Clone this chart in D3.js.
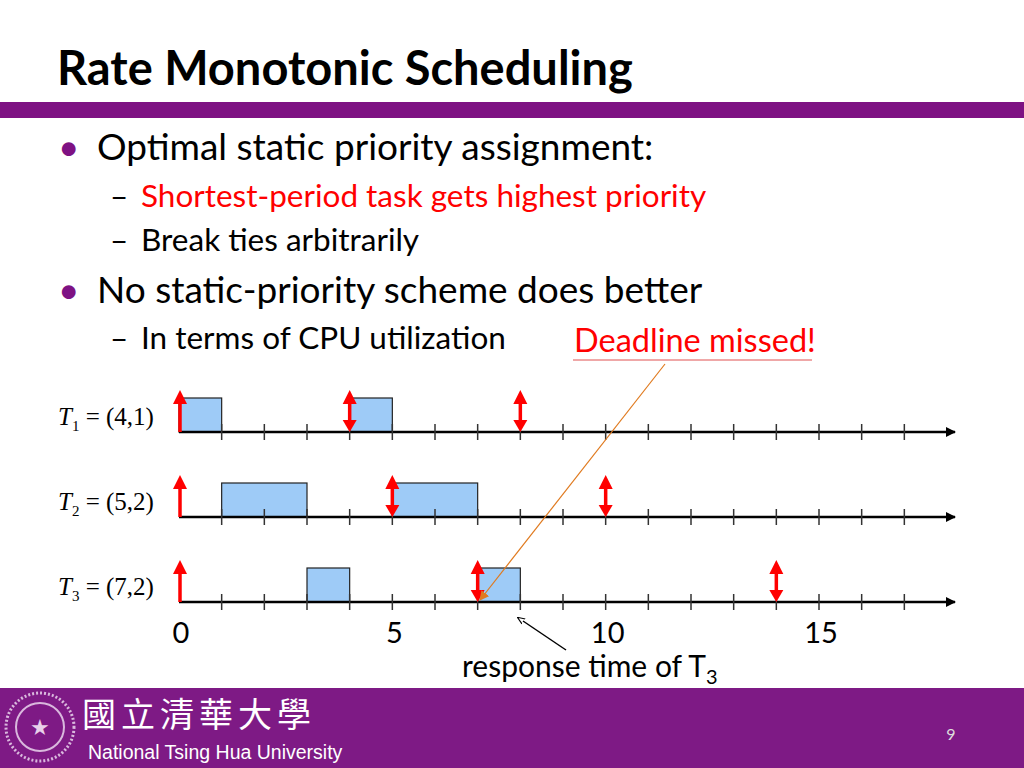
<!DOCTYPE html>
<html><head><meta charset="utf-8">
<script src="https://cdn.jsdelivr.net/npm/d3@7"></script>
<style>body{margin:0;background:#fff}svg{display:block}</style>
</head><body>
<script>
// tasks: name, period, execution
const tasks = ["T1", "T2", "T3"];
const taskLabels = ["(4,1)", "(5,2)", "(7,2)"];
// executed intervals [start, end] per task
const runs = [[[0, 1], [4, 5]], [[1, 3], [5, 7]], [[3, 4], [7, 8]]];
// release times per task
const releases = [[0, 4, 8], [0, 5, 10], [0, 7, 14]];
const tickVals = d3.range(1, 18);
const labelVals = [0, 5, 10, 15];

const W = 1024, H = 768;
const svg = d3.select("body").append("svg").attr("width", W).attr("height", H);
const defs = svg.append("defs");
defs.append("marker").attr("id", "ah").attr("viewBox", "0 0 10 10").attr("refX", 9).attr("refY", 5)
  .attr("markerWidth", 5).attr("markerHeight", 4).attr("orient", "auto")
  .append("path").attr("d", "M0,0L10,5L0,10z").attr("fill", "#000");
defs.append("marker").attr("id", "ao").attr("viewBox", "0 0 10 10").attr("refX", 9).attr("refY", 5)
  .attr("markerWidth", 8).attr("markerHeight", 8).attr("orient", "auto")
  .append("path").attr("d", "M0,0L10,5L0,10z").attr("fill", "#E07A1F");
defs.append("marker").attr("id", "aline").attr("viewBox", "0 0 10 10").attr("refX", 1).attr("refY", 5)
  .attr("markerWidth", 5).attr("markerHeight", 5).attr("orient", "auto")
  .append("path").attr("d", "M0,1L10,5L0,9").attr("fill", "none").attr("stroke", "#000").attr("stroke-width", 1.5);

const font = "Lato, 'Open Sans', sans-serif";
// header
svg.append("text").attr("x", 57).attr("y", 85).attr("font-family", font)
  .attr("font-weight", "bold").attr("font-size", 47).text("Rate Monotonic Scheduling");
svg.append("rect").attr("x", 0).attr("y", 102).attr("width", W).attr("height", 16).attr("fill", "#7E1283");

// bullets
const lines = [
  {t: "Optimal static priority assignment:", x: 97, y: 160, s: 37, lv: 1, c: "#000"},
  {t: "Shortest-period task gets highest priority", x: 141, y: 207, s: 31.5, lv: 2, c: "#FF0000"},
  {t: "Break ties arbitrarily", x: 141, y: 251, s: 31.5, lv: 2, c: "#000"},
  {t: "No static-priority scheme does better", x: 97, y: 303, s: 37, lv: 1, c: "#000"},
  {t: "In terms of CPU utilization", x: 141, y: 349, s: 31.5, lv: 2, c: "#000"}
];
lines.forEach(l => {
  svg.append("text").attr("x", l.lv === 1 ? 58 : 110).attr("y", l.y).attr("font-family", font)
    .attr("font-size", l.s).attr("fill", l.lv === 1 ? "#7E1283" : "#000").text(l.lv === 1 ? "•" : "–");
  svg.append("text").attr("x", l.x).attr("y", l.y).attr("font-family", font)
    .attr("font-size", l.s).attr("fill", l.c).text(l.t);
});
svg.append("text").attr("x", 574).attr("y", 352).attr("font-family", font).attr("font-size", 32.5)
  .attr("fill", "#FF0000").text("Deadline missed!");
svg.append("line").attr("x1", 573).attr("x2", 812).attr("y1", 360).attr("y2", 360).attr("stroke", "#E05050").attr("stroke-width", 1);

// timeline
const x = d3.scaleLinear().domain([0, 18]).range([179, 947]);
const y = d3.scaleBand().domain(tasks).range([347, 602]).paddingInner(0);
const rowY = d => y(d) + y.bandwidth();
const boxH = 34;

tasks.forEach((t, i) => {
  const base = rowY(t);
  const g = svg.append("g");
  g.selectAll("rect").data(runs[i]).enter().append("rect")
    .attr("x", d => x(d[0])).attr("y", base - boxH).attr("width", d => x(d[1]) - x(d[0])).attr("height", boxH)
    .attr("fill", "#9ECBF7").attr("stroke", "#222").attr("stroke-width", 1.2);
  g.append("line").attr("x1", x(0)).attr("x2", 955).attr("y1", base).attr("y2", base)
    .attr("stroke", "#000").attr("stroke-width", 2.5).attr("marker-end", "url(#ah)");
  g.selectAll(".tk").data(tickVals).enter().append("line")
    .attr("x1", d => x(d)).attr("x2", d => x(d)).attr("y1", base - 8).attr("y2", base + 8)
    .attr("stroke", "#333").attr("stroke-width", 1.5);
  releases[i].forEach(r => {
    const cx = x(r);
    if (r === 0) {
      g.append("line").attr("x1", cx + 1).attr("x2", cx + 1).attr("y1", base).attr("y2", base - 30)
        .attr("stroke", "#F00").attr("stroke-width", 3.5);
      g.append("path").attr("d", `M${cx - 6},${base - 28}L${cx + 1},${base - 42}L${cx + 8},${base - 28}z`).attr("fill", "#F00");
    } else {
      g.append("line").attr("x1", cx).attr("x2", cx).attr("y1", base - 30).attr("y2", base - 8)
        .attr("stroke", "#F00").attr("stroke-width", 3.5);
      g.append("path").attr("d", `M${cx - 7},${base - 28}L${cx},${base - 42}L${cx + 7},${base - 28}z`).attr("fill", "#F00");
      g.append("path").attr("d", `M${cx - 7},${base - 12}L${cx},${base}L${cx + 7},${base - 12}z`).attr("fill", "#F00");
    }
  });
  const lt = svg.append("text").attr("x", 58).attr("y", base - 7).attr("font-family", "'Liberation Serif', serif").attr("font-size", 25);
  lt.append("tspan").attr("font-style", "italic").text("T");
  lt.append("tspan").attr("font-size", 15).attr("dy", 6).text(String(i + 1));
  lt.append("tspan").attr("dy", -6).text(" = " + taskLabels[i]);
});

svg.selectAll(".lab").data(labelVals).enter().append("text")
  .attr("x", d => x(d) + 2).attr("y", 643).attr("text-anchor", "middle").attr("font-family", font)
  .attr("font-size", 29).text(d => d);

// annotations
svg.append("line").attr("x1", 665).attr("y1", 364).attr("x2", 480).attr("y2", 600)
  .attr("stroke", "#E07A1F").attr("stroke-width", 1.2).attr("marker-end", "url(#ao)");
svg.append("line").attr("x1", 566).attr("y1", 650).attr("x2", 523).attr("y2", 621)
  .attr("stroke", "#000").attr("stroke-width", 1.5).attr("marker-end", "url(#aline)");
const rt = svg.append("text").attr("x", 462).attr("y", 677).attr("font-family", font).attr("font-size", 30).text("response time of T");
rt.append("tspan").attr("font-size", 20).attr("dy", 7).text("3");

// footer
svg.append("rect").attr("x", 0).attr("y", 688).attr("width", W).attr("height", 80).attr("fill", "#7E1A85");
svg.append("circle").attr("cx", 40).attr("cy", 727).attr("r", 34).attr("fill", "none").attr("stroke", "#D9B8DD").attr("stroke-width", 3).attr("stroke-dasharray", "2 2");
svg.append("circle").attr("cx", 40).attr("cy", 727).attr("r", 24).attr("fill", "none").attr("stroke", "#D9B8DD").attr("stroke-width", 2);
svg.append("text").attr("x", 40).attr("y", 735).attr("text-anchor", "middle").attr("fill", "#E8D0EA").attr("font-size", 22).text("★");
svg.append("text").attr("x", 82).attr("y", 727).attr("font-family", "'Noto Sans CJK TC', sans-serif").attr("font-size", 34)
  .attr("fill", "#fff").attr("letter-spacing", 5).text("國立清華大學");
svg.append("text").attr("x", 88).attr("y", 759).attr("font-family", "'Liberation Sans', Arial, sans-serif").attr("font-size", 19.5)
  .attr("fill", "#fff").text("National Tsing Hua University");
svg.append("text").attr("x", 951).attr("y", 740).attr("text-anchor", "middle").attr("font-family", font).attr("font-size", 16)
  .attr("fill", "#ddd").text("9");
</script>
</body></html>
